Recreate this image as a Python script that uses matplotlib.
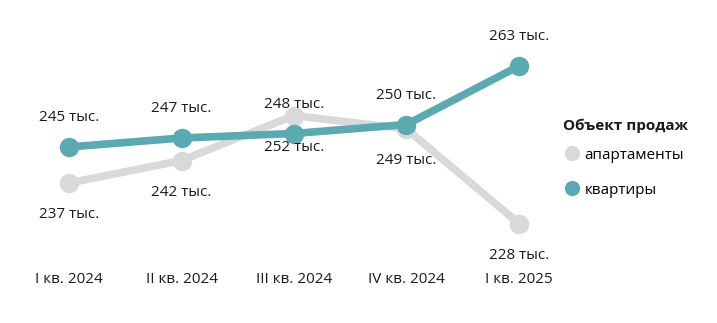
import matplotlib.pyplot as plt
from matplotlib.lines import Line2D

quarters = ['I кв. 2024', 'II кв. 2024', 'III кв. 2024', 'IV кв. 2024', 'I кв. 2025']
apartments = [237, 242, 252, 249, 228]
flats = [245, 247, 248, 250, 263]

grey = '#d9d9d9'
teal = '#5ba9b1'

plt.rcParams['font.family'] = ['Open Sans', 'DejaVu Sans']

fig = plt.figure(figsize=(7.17, 3.23), dpi=100)
ax = fig.add_axes([24 / 717, 1 - 259.5 / 323, 540 / 717, 225 / 323])

x = range(len(quarters))
ax.plot(x, apartments, color=grey, lw=5.5, marker='o', markersize=13, solid_capstyle='round')
ax.plot(x, flats, color=teal, lw=5.5, marker='o', markersize=13, solid_capstyle='round')

for i, v in enumerate(apartments):
    ax.annotate(f'{v} тыс.', (i, v), xytext=(0, -23), textcoords='offset points',
                ha='center', va='center', fontsize=11, color='#1a1a1a')
for i, v in enumerate(flats):
    ax.annotate(f'{v} тыс.', (i, v), xytext=(0, 21), textcoords='offset points',
                ha='center', va='center', fontsize=11, color='#1a1a1a')

ax.set_xlim(-0.4, 4.4)
ax.set_ylim(220, 270)
ax.set_xticks(list(x))
ax.set_xticklabels(quarters, fontsize=11, color='#1a1a1a')
ax.tick_params(axis='x', length=0, pad=9)
ax.set_yticks([])
for s in ax.spines.values():
    s.set_visible(False)

# легенда: заголовок отдельно, чтобы подогнать отступы
fig.text(563 / 717, 1 - 126 / 323, 'Объект продаж', fontsize=11, fontweight='bold',
         ha='left', va='center', color='#1a1a1a')
handles = [Line2D([], [], ls='', marker='o', markersize=10, color=grey),
           Line2D([], [], ls='', marker='o', markersize=10, color=teal)]
leg = fig.legend(handles, ['апартаменты', 'квартиры'],
                 loc='upper left', bbox_to_anchor=(551 / 717, 1 - 134 / 323),
                 frameon=False, fontsize=11,
                 handletextpad=0.3, handlelength=1.0, labelspacing=1.3)

fig.savefig('out.png', dpi=100)
